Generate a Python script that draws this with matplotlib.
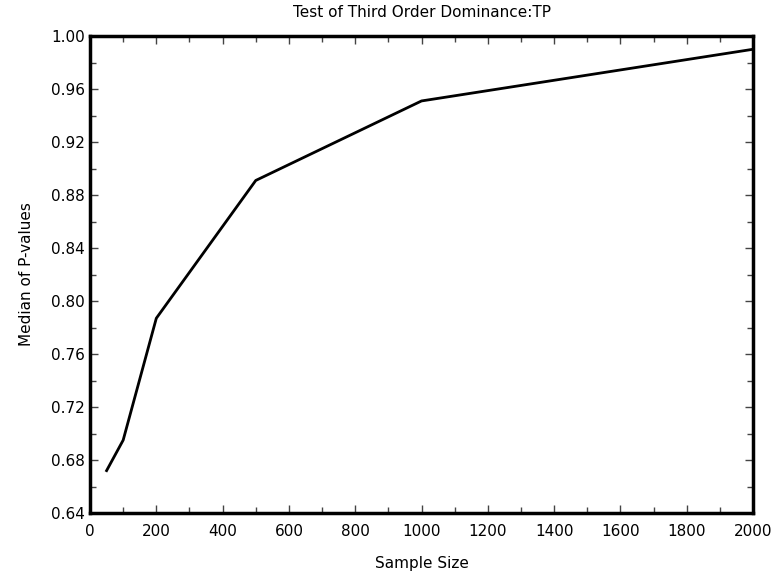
import matplotlib
matplotlib.use("Agg")
import matplotlib.pyplot as plt
from matplotlib.ticker import MultipleLocator

# sample sizes and median p-values
sample_size = [50, 100, 200, 500, 1000, 2000]
median_p = [0.672, 0.695, 0.787, 0.891, 0.951, 0.990]

plt.rcParams["font.family"] = "DejaVu Sans"

fig = plt.figure(figsize=(7.74, 5.81), dpi=100)
ax = fig.add_axes([0.1163, 0.117, 0.8566, 0.821])

ax.plot(sample_size, median_p, color="black", linewidth=2)

ax.set_xlim(0, 2000)
ax.set_ylim(0.64, 1.00)
ax.xaxis.set_major_locator(MultipleLocator(200))
ax.xaxis.set_minor_locator(MultipleLocator(100))
ax.yaxis.set_major_locator(MultipleLocator(0.04))
ax.yaxis.set_minor_locator(MultipleLocator(0.02))
ax.yaxis.set_major_formatter(plt.FormatStrFormatter("%.2f"))

ax.tick_params(which="both", direction="in", top=True, right=True, labelsize=11)
ax.tick_params(which="major", length=6, width=1, color="#444444")
ax.tick_params(which="minor", length=4, width=1, color="#444444")
ax.tick_params(axis="x", pad=8)
for s in ax.spines.values():
    s.set_linewidth(2.5)

ax.set_title("Test of Third Order Dominance:TP", fontsize=11, pad=14)
ax.set_xlabel("Sample Size", fontsize=11, labelpad=12)
ax.set_ylabel("Median of P-values", fontsize=11, labelpad=12)

fig.savefig("out.png", dpi=100)
